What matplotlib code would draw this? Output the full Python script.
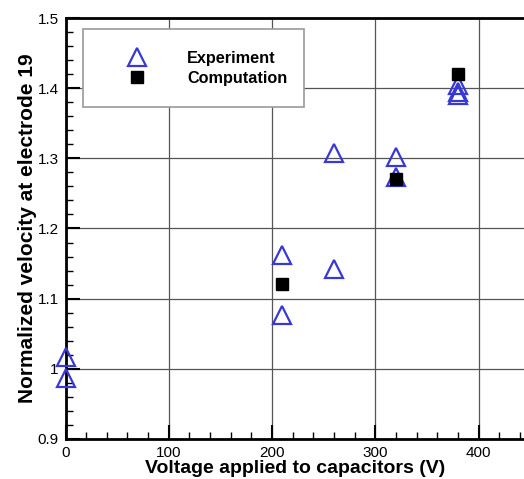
import matplotlib
matplotlib.use("Agg")
import matplotlib.pyplot as plt
from matplotlib.ticker import MultipleLocator, FuncFormatter
from matplotlib.patches import Rectangle

plt.rcParams['font.family'] = ['Liberation Sans', 'DejaVu Sans']

exp_x = [0, 0, 210, 210, 260, 260, 320, 320, 380, 380, 380]
exp_y = [1.017, 0.987, 1.162, 1.077, 1.142, 1.307, 1.302, 1.274, 1.405, 1.395, 1.390]
comp_x = [210, 320, 380]
comp_y = [1.121, 1.270, 1.420]

W, H = 524, 479
fig = plt.figure(figsize=(W / 100, H / 100), dpi=100)
L, R, T, B = 65.5, 524, 18, 439
ax = fig.add_axes([L / W, (H - B) / H, (R - L) / W, (B - T) / H])

blue = '#3838d8'
ax.plot(exp_x, exp_y, linestyle='none', marker='^', ms=13, mfc='none',
        mec=blue, mew=1.6, label='Experiment', clip_on=False, zorder=3)
ax.plot(comp_x, comp_y, linestyle='none', marker='s', ms=8, mfc='black',
        mec='black', label='Computation', zorder=4)

ax.set_xlim(0, 444)
ax.set_ylim(0.9, 1.5)
ax.xaxis.set_major_locator(MultipleLocator(100))
ax.xaxis.set_minor_locator(MultipleLocator(20))
ax.yaxis.set_major_locator(MultipleLocator(0.1))
ax.yaxis.set_minor_locator(MultipleLocator(0.02))


def yfmt(v, p):
    if abs(v - round(v)) < 1e-9:
        return f"{int(round(v))}"
    return f"{v:.1f}"


ax.yaxis.set_major_formatter(FuncFormatter(yfmt))
ax.xaxis.set_major_formatter(FuncFormatter(lambda v, p: f"{int(round(v))}"))

ax.tick_params(which='major', direction='in', length=10, width=1.5, labelsize=11)
ax.tick_params(axis='y', which='major', pad=5)
ax.tick_params(axis='x', which='major', pad=5)
ax.tick_params(which='minor', direction='in', length=5, width=1.0)
ax.tick_params(top=False, right=False)
ax.grid(True, which='major', color='#555555', linewidth=0.9)
ax.set_axisbelow(True)

for s in ['left', 'bottom', 'top']:
    ax.spines[s].set_linewidth(2)
ax.spines['right'].set_visible(False)

ax.set_xlabel('Voltage applied to capacitors (V)', fontsize=14, fontweight='bold', labelpad=0)
ax.set_ylabel('Normalized velocity at electrode 19', fontsize=15, fontweight='bold', labelpad=0)

# legend box
bx0, bx1, by0, by1 = 83, 304, 29, 107
rect = Rectangle(((bx0 - L) / (R - L), (B - by1) / (B - T)), (bx1 - bx0) / (R - L),
                 (by1 - by0) / (B - T), transform=ax.transAxes, facecolor='white',
                 edgecolor='#999999', linewidth=1.2, zorder=5)
ax.add_patch(rect)

fs = 11.7
hl = 1.2
anchor_x = (137 - hl * fs * 100 / 72 / 2 - L) / (R - L)
anchor_y = (B - 51) / (B - T)
leg = ax.legend(loc='upper left', bbox_to_anchor=(anchor_x, anchor_y), frameon=False,
                prop={'weight': 'bold', 'size': fs},
                handlelength=hl, handletextpad=2.5, borderpad=0, labelspacing=0.3,
                borderaxespad=0, numpoints=1)
leg.set_zorder(6)

fig.savefig('out.png', dpi=100)
